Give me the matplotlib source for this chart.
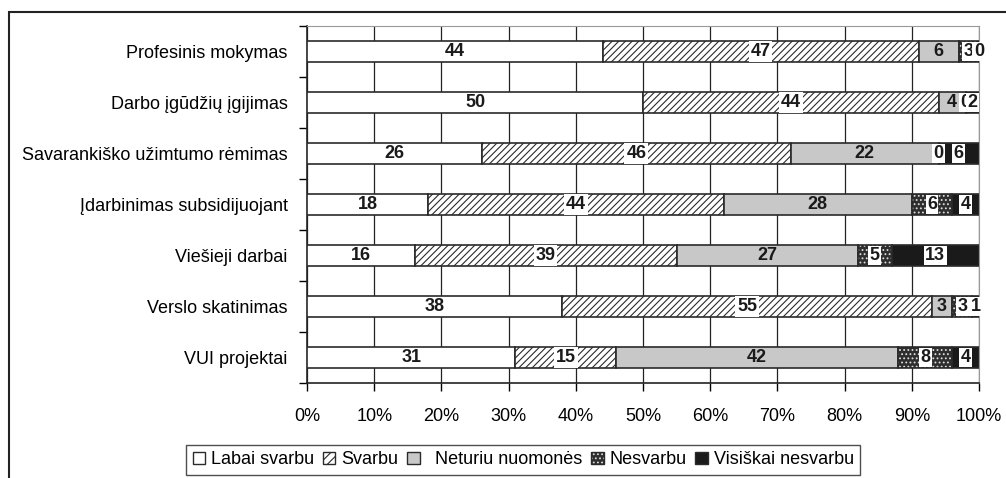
import matplotlib.pyplot as plt
import numpy as np
from matplotlib.patches import Patch, Rectangle

categories = ['Profesinis mokymas', 'Darbo įgūdžių įgijimas', 'Savarankiško užimtumo rėmimas',
              'Įdarbinimas subsidijuojant', 'Viešieji darbai', 'Verslo skatinimas', 'VUI projektai']
labai_svarbu = [44, 50, 26, 18, 16, 38, 31]
svarbu = [47, 44, 46, 44, 39, 55, 15]
neturiu = [6, 4, 22, 28, 27, 3, 42]
nesvarbu = [3, 0, 0, 6, 5, 3, 8]
visiskai = [0, 2, 6, 4, 13, 1, 4]
series_names = ['Labai svarbu', 'Svarbu', '  Neturiu nuomonės', 'Nesvarbu', 'Visiškai nesvarbu']
xticks = np.arange(0, 101, 10)

plt.rcParams['font.family'] = ['Liberation Sans', 'DejaVu Sans']
plt.rcParams['hatch.linewidth'] = 0.8

fig = plt.figure(figsize=(10.06, 4.78), dpi=100)
ax = fig.add_axes([307 / 1006, 95 / 478, 672 / 1006, 357 / 478])

y = np.arange(len(categories))
h = 0.4
edge = '#2a2a2a'
data = [labai_svarbu, svarbu, neturiu, nesvarbu, visiskai]
left = np.zeros(len(categories))

for i, vals in enumerate(data):
    vals = np.array(vals, dtype=float)
    if i == 0:
        ax.barh(y, vals, h, left=left, color='white', edgecolor=edge, lw=1.2, zorder=3)
    elif i == 1:
        ax.barh(y, vals, h, left=left, color='white', edgecolor=edge, hatch='/////', lw=1.2, zorder=3)
    elif i == 2:
        ax.barh(y, vals, h, left=left, color='#c8c8c8', edgecolor=edge, lw=1.2, zorder=3)
    elif i == 3:
        ax.barh(y, vals, h, left=left, color='#2e2e2e', edgecolor='#dddddd', hatch='....', lw=0, zorder=3)
        ax.barh(y, vals, h, left=left, fill=False, edgecolor=edge, lw=1.2, zorder=3)
    else:
        ax.barh(y, vals, h, left=left, color='#1a1a1a', edgecolor=edge, lw=1.2, zorder=3)
    for j, v in enumerate(vals):
        cx = left[j] + v / 2
        kw = {}
        if i == 1:
            kw['bbox'] = dict(boxstyle='square,pad=0.1', fc='white', ec='none')
        elif i in (3, 4):
            kw['bbox'] = dict(boxstyle='square,pad=0.08', fc='white', ec='none')
        ax.text(cx, y[j], '%d' % v, ha='center', va='center', fontsize=13,
                fontweight='bold', color='#1a1a1a', zorder=5, **kw)
    left += vals

ax.set_xlim(0, 100)
ax.set_ylim(len(categories) - 0.5, -0.5)
ax.set_xticks(xticks)
ax.set_xticklabels(['%d%%' % t for t in xticks], fontsize=13)
ax.set_yticks(y)
ax.set_yticklabels(categories, fontsize=13)
ax.set_yticks(np.arange(-0.5, len(categories), 1), minor=True)
ax.tick_params(axis='y', which='major', length=0, pad=14)
ax.tick_params(axis='y', which='minor', length=6, direction='out', width=1)
ax.tick_params(axis='x', length=6, direction='out', width=1, pad=12)
ax.grid(axis='x', color='#222222', lw=0.9, zorder=0)
ax.set_axisbelow(True)

for s in ['top', 'right']:
    ax.spines[s].set_color('#999999')
for s in ['left', 'bottom']:
    ax.spines[s].set_color('#222222')
    ax.spines[s].set_linewidth(1.2)

handles = [
    Patch(facecolor='white', edgecolor=edge),
    Patch(facecolor='white', edgecolor=edge, hatch='////'),
    Patch(facecolor='#c8c8c8', edgecolor=edge),
    (Patch(facecolor='#2e2e2e', edgecolor='#dddddd', hatch='....', lw=0), Patch(fill=False, edgecolor=edge)),
    Patch(facecolor='#1a1a1a', edgecolor=edge),
]
leg = fig.legend(handles, series_names, loc='upper center', bbox_to_anchor=(0.52, 1 - 445 / 478),
                 ncol=5, fontsize=13, frameon=True, fancybox=False, edgecolor='#222222',
                 handlelength=0.7, handleheight=0.7, handletextpad=0.3, columnspacing=0.5,
                 borderpad=0.35, borderaxespad=0)
leg.get_frame().set_linewidth(1.0)

fig.patches.append(Rectangle((9 / 1006, -0.05), 1.1, 466 / 478 + 0.05, transform=fig.transFigure,
                             fill=False, edgecolor='#222222', lw=1.5, clip_on=False))

fig.savefig('out.png', dpi=100)
